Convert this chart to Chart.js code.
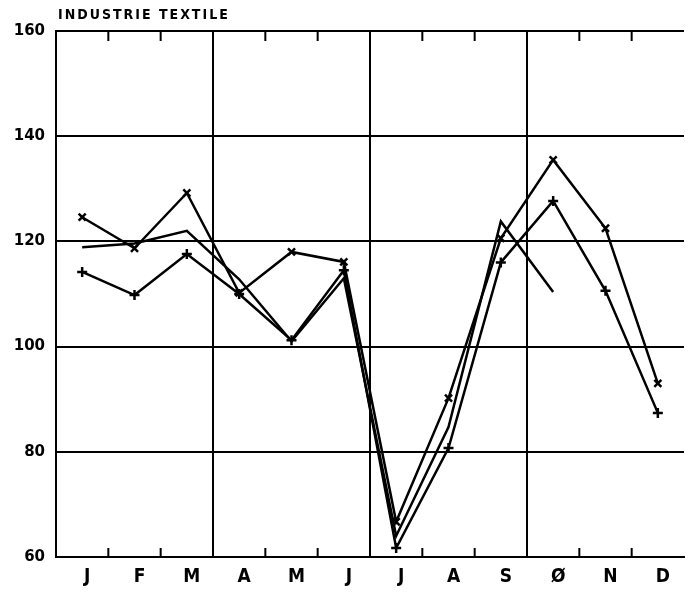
<!DOCTYPE html>
<html>
<head>
<meta charset="utf-8">
<script src="https://cdn.jsdelivr.net/npm/chart.js@4"></script>
<style>
  html, body { margin: 0; padding: 0; background: #fff; }
  #wrap { width: 697px; height: 592px; }
</style>
</head>
<body>
<div id="wrap"><canvas id="grafica" width="697" height="592"></canvas></div>
<script>
// valeurs
let mois = ['J', 'F', 'M', 'A', 'M', 'J', 'J', 'A', 'S', 'Ø', 'N', 'D'];
let serie1 = [124.6, 118.7, 129.2, 110.2, 118.0, 116.1, 66.7, 90.2, 120.6, 135.5, 122.5, 93.0];
let serie2 = [114.2, 109.8, 117.6, 110.0, 101.2, 114.5, 61.7, 80.7, 116.0, 127.7, 110.6, 87.4];
let serie3 = [118.9, 119.6, 122.0, 112.8, 101.0, 113.0, 64.0, 84.7, 123.8, 110.4];
let ticksY = [60, 80, 100, 120, 140, 160];
let titre = 'INDUSTRIE TEXTILE';

// petits traits entre les mois + titre
const decor = {
    id: 'decor',
    afterDraw(chart) {
        let ctx = chart.ctx;
        let xs = chart.scales.x;
        let area = chart.chartArea;
        ctx.save();
        ctx.strokeStyle = '#000';
        ctx.lineWidth = 2;
        for (let k = 1; k < mois.length; k++) {
            if (k % 3 === 0) continue;
            let x = (xs.getPixelForValue(k - 1) + xs.getPixelForValue(k)) / 2;
            ctx.beginPath();
            ctx.moveTo(x, area.bottom);
            ctx.lineTo(x, area.bottom - 9);
            ctx.moveTo(x, area.top);
            ctx.lineTo(x, area.top + 10);
            ctx.stroke();
        }
        ctx.fillStyle = '#000';
        ctx.font = 'bold 14px "DejaVu Sans Condensed"';
        ctx.letterSpacing = '2px';
        ctx.textBaseline = 'middle';
        ctx.textAlign = 'left';
        ctx.fillText(titre, area.left + 2, 15);
        ctx.restore();
    }
};

let ctx = document.getElementById('grafica').getContext('2d');
let miGrafica = new Chart(ctx, {
    type: 'line',
    data: {
        labels: mois,
        datasets: [{
            data: serie1,
            borderColor: '#000',
            backgroundColor: '#000',
            borderWidth: 2.5,
            tension: 0,
            pointStyle: 'crossRot',
            pointRadius: 5,
            pointBorderWidth: 2.5
        },
        {
            data: serie2,
            borderColor: '#000',
            backgroundColor: '#000',
            borderWidth: 2.5,
            tension: 0,
            pointStyle: 'cross',
            pointRadius: 5,
            pointBorderWidth: 2.5
        },
        {
            data: serie3,
            borderColor: '#000',
            backgroundColor: '#000',
            borderWidth: 2.5,
            tension: 0,
            pointRadius: 0
        }]
    },
    options: {
        responsive: false,
        animation: false,
        layout: { padding: { top: 31, right: 13, left: 0, bottom: 0 } },
        plugins: {
            legend: { display: false },
            title: { display: false },
            tooltip: { enabled: false }
        },
        scales: {
            x: {
                offset: true,
                grid: {
                    offset: true,
                    drawTicks: false,
                    lineWidth: 2,
                    color: (c) => (c.index % 3 === 0 ? '#000' : 'rgba(0,0,0,0)')
                },
                border: { display: true, color: '#000', width: 2 },
                ticks: {
                    color: '#000',
                    padding: 9,
                    labelOffset: 5,
                    autoSkip: false,
                    maxRotation: 0,
                    font: { family: 'DejaVu Sans Condensed', size: 19, weight: 'bold' }
                },
                afterFit: (s) => { s.height = 35; }
            },
            y: {
                min: ticksY[0],
                max: ticksY[ticksY.length - 1],
                afterBuildTicks: (s) => { s.ticks = ticksY.map(v => ({ value: v })); },
                grid: { color: '#000', lineWidth: 2, drawTicks: false },
                border: { display: true, color: '#000', width: 2 },
                ticks: {
                    color: '#000',
                    padding: 11,
                    font: { family: 'DejaVu Sans', size: 15, weight: 'bold' }
                },
                afterFit: (s) => { s.width = 56; }
            }
        }
    },
    plugins: [decor]
});
</script>
</body>
</html>
